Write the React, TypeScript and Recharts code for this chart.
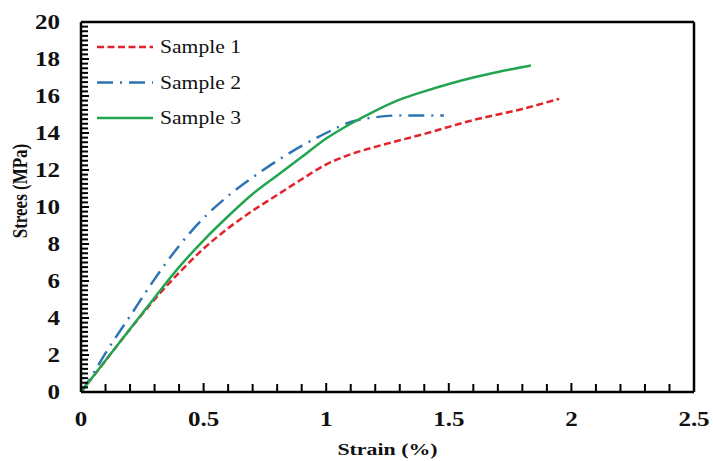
import { Legend, Line, LineChart, ReferenceLine, XAxis, YAxis } from "recharts";

// strain (%) vs stress (MPa) for the three samples
const sample1 = [
  { strain: 0, stress: 0 },
  { strain: 0.1, stress: 1.7 },
  { strain: 0.2, stress: 3.4 },
  { strain: 0.3, stress: 5.0 },
  { strain: 0.4, stress: 6.45 },
  { strain: 0.5, stress: 7.75 },
  { strain: 0.6, stress: 8.85 },
  { strain: 0.7, stress: 9.8 },
  { strain: 0.8, stress: 10.65 },
  { strain: 0.9, stress: 11.5 },
  { strain: 1.0, stress: 12.3 },
  { strain: 1.1, stress: 12.85 },
  { strain: 1.2, stress: 13.25 },
  { strain: 1.4, stress: 13.95 },
  { strain: 1.6, stress: 14.7 },
  { strain: 1.8, stress: 15.3 },
  { strain: 1.95, stress: 15.85 },
];

const sample2 = [
  { strain: 0, stress: 0 },
  { strain: 0.05, stress: 1.0 },
  { strain: 0.1, stress: 2.1 },
  { strain: 0.2, stress: 4.1 },
  { strain: 0.3, stress: 6.1 },
  { strain: 0.4, stress: 7.9 },
  { strain: 0.5, stress: 9.4 },
  { strain: 0.6, stress: 10.6 },
  { strain: 0.7, stress: 11.6 },
  { strain: 0.8, stress: 12.5 },
  { strain: 0.9, stress: 13.3 },
  { strain: 1.0, stress: 14.0 },
  { strain: 1.1, stress: 14.6 },
  { strain: 1.2, stress: 14.85 },
  { strain: 1.3, stress: 14.95 },
  { strain: 1.48, stress: 14.95 },
];

const sample3 = [
  { strain: 0, stress: 0 },
  { strain: 0.1, stress: 1.7 },
  { strain: 0.2, stress: 3.4 },
  { strain: 0.3, stress: 5.1 },
  { strain: 0.4, stress: 6.75 },
  { strain: 0.5, stress: 8.2 },
  { strain: 0.6, stress: 9.5 },
  { strain: 0.7, stress: 10.7 },
  { strain: 0.8, stress: 11.7 },
  { strain: 0.9, stress: 12.7 },
  { strain: 1.0, stress: 13.7 },
  { strain: 1.1, stress: 14.5 },
  { strain: 1.2, stress: 15.2 },
  { strain: 1.3, stress: 15.8 },
  { strain: 1.4, stress: 16.25 },
  { strain: 1.5, stress: 16.65 },
  { strain: 1.6, stress: 17.0 },
  { strain: 1.7, stress: 17.3 },
  { strain: 1.835, stress: 17.65 },
];

const strainLabels = [0, 0.5, 1, 1.5, 2, 2.5];
const stressLabels = [0, 2, 4, 6, 8, 10, 12, 14, 16, 18, 20];

// minor tick steps (ticks drawn inside the frame)
const strainStep = 0.1;
const stressStep = 0.25;
const strainTicks = Array.from({ length: 26 }, (_, i) => +(i * strainStep).toFixed(2));
const stressTicks = Array.from({ length: 81 }, (_, i) => +(i * stressStep).toFixed(2));

const series = [
  { name: "Sample 1", data: sample1, color: "#e3232c", dash: "7 3.5" },
  { name: "Sample 2", data: sample2, color: "#2e74b5", dash: "16 7 2 7" },
  { name: "Sample 3", data: sample3, color: "#22a54f", dash: undefined as string | undefined },
];

const FONT = '"Liberation Serif", "Times New Roman", serif';
const STRETCH = 1.25;

const isLabel = (v: number, list: number[]) => list.some((l) => Math.abs(l - v) < 1e-6);

function StrainTick({ x, y, payload }: any) {
  const v = payload.value as number;
  const major = isLabel(v, strainLabels);
  return (
    <g>
      <line x1={x} x2={x} y1={y} y2={y - (major ? 9 : 8)} stroke="#000" strokeWidth={2} />
      {major && (
        <text
          transform={`translate(${x},${y + 34}) scale(${STRETCH},1)`}
          textAnchor="middle"
          fontFamily={FONT}
          fontWeight="bold"
          fontSize={20}
          fill="#111"
        >
          {String(v)}
        </text>
      )}
    </g>
  );
}

function StressTick({ x, y, payload }: any) {
  const v = payload.value as number;
  const major = isLabel(v, stressLabels);
  return (
    <g>
      <line x1={x} x2={x + (major ? 8 : 7)} y1={y} y2={y} stroke="#000" strokeWidth={2} />
      {major && (
        <text
          transform={`translate(${x - 21},${y + 7}) scale(${STRETCH},1)`}
          textAnchor="end"
          fontFamily={FONT}
          fontWeight="bold"
          fontSize={20}
          fill="#111"
        >
          {String(v)}
        </text>
      )}
    </g>
  );
}

function LegendBox() {
  return (
    <svg width={170} height={110}>
      {series.map((s, i) => {
        const cy = 17 + i * 35.5;
        return (
          <g key={s.name}>
            <line x1={7} x2={63} y1={cy} y2={cy} stroke={s.color} strokeWidth={2.5} strokeDasharray={s.dash} />
            <text
              transform={`translate(70,${cy + 6}) scale(1.2,1)`}
              fontFamily={FONT}
              fontSize={18}
              fill="#111"
            >
              {s.name}
            </text>
          </g>
        );
      })}
    </svg>
  );
}

export default function App() {
  return (
    <div style={{ position: "absolute", left: 0, top: 0, width: 713, height: 461, background: "#fff" }}>
      <LineChart width={713} height={461} margin={{ top: 22, right: 19, bottom: 0, left: 0 }}>
        <XAxis
          dataKey="strain"
          type="number"
          domain={[0, 2.5]}
          ticks={strainTicks}
          interval={0}
          tickSize={0}
          tickMargin={0}
          tickLine={false}
          tick={<StrainTick />}
          axisLine={{ stroke: "#000", strokeWidth: 2.5 }}
          height={69}
          label={(props: any) => {
            const vb = props.viewBox;
            return (
              <text
                transform={`translate(${vb.x + vb.width / 2},455) scale(${STRETCH},1)`}
                textAnchor="middle"
                fontFamily={FONT}
                fontWeight="bold"
                fontSize={17.5}
                fill="#111"
              >
                Strain (%)
              </text>
            );
          }}
        />
        <YAxis
          type="number"
          domain={[0, 20]}
          ticks={stressTicks}
          interval={0}
          tickSize={0}
          tickMargin={0}
          tickLine={false}
          tick={<StressTick />}
          axisLine={{ stroke: "#000", strokeWidth: 2.5 }}
          width={81}
          label={() => (
            <text
              transform={`translate(27,191) rotate(-90) scale(1,${STRETCH})`}
              textAnchor="middle"
              fontFamily={FONT}
              fontWeight="bold"
              fontSize={17}
              fill="#111"
            >
              Strees (MPa)
            </text>
          )}
        />
        <ReferenceLine y={20} stroke="#000" strokeWidth={2.5} />
        <ReferenceLine x={2.5} stroke="#000" strokeWidth={2.5} />
        <Legend
          layout="vertical"
          align="center"
          verticalAlign="middle"
          wrapperStyle={{ left: 90, top: 30, width: 170 }}
          content={() => <LegendBox />}
        />
        {series.map((s) => (
          <Line
            key={s.name}
            name={s.name}
            data={s.data}
            dataKey="stress"
            type="monotone"
            stroke={s.color}
            strokeWidth={2.5}
            strokeDasharray={s.dash}
            dot={false}
            activeDot={false}
            isAnimationActive={false}
          />
        ))}
      </LineChart>
    </div>
  );
}
